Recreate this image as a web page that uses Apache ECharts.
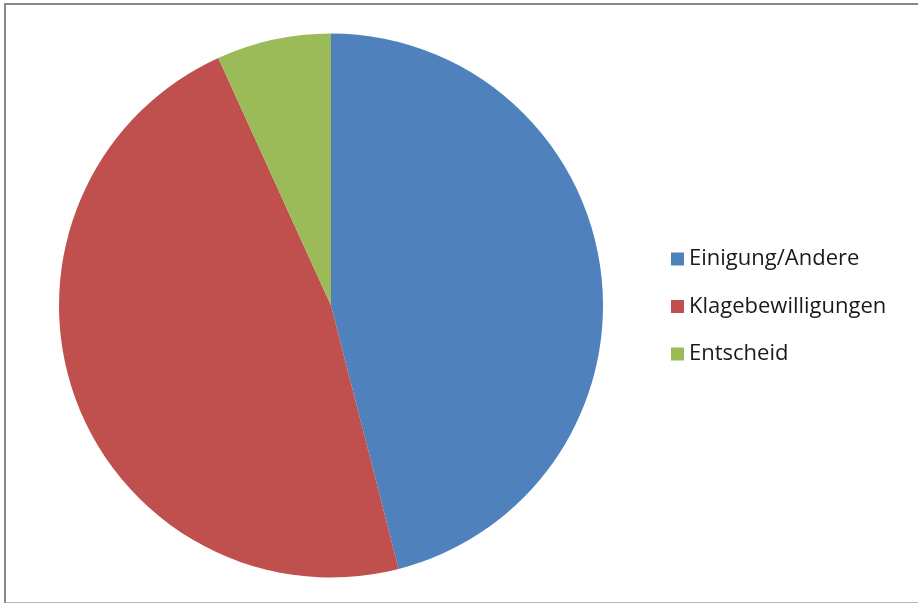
<!DOCTYPE html>
<html><head><meta charset="utf-8">
<script src="https://cdn.jsdelivr.net/npm/echarts@6/dist/echarts.min.js"></script>
<style>
html,body{margin:0;padding:0;background:#fff;}
#frame{position:absolute;left:4px;top:3px;width:914px;height:600px;border-top:2px solid #878787;border-left:2px solid #878787;border-bottom:1px solid #b5b5b5;box-sizing:border-box;}
#c{position:absolute;left:0;top:0;width:918px;height:605px;}
</style></head>
<body>
<div id="frame"></div>
<div id="c"></div>
<script>
const categories = ['Einigung/Andere', 'Klagebewilligungen', 'Entscheid'];
const values = [46.0, 47.2, 6.8];
const colors = ['#4F81BD', '#C0504D', '#9BBB59'];

const chart = echarts.init(document.getElementById('c'), null, {renderer: 'canvas'});
chart.setOption({
  animation: false,
  color: colors,
  legend: {
    orient: 'vertical',
    left: 671,
    top: 248,
    padding: 0,
    itemWidth: 13,
    itemHeight: 13,
    itemGap: 25.5,
    itemTextGap: 10,
    icon: 'rect',
    textStyle: {fontFamily: 'Open Sans', fontSize: 22, lineHeight: 22, color: '#1a1a1a'},
    data: categories
  },
  series: [{
    type: 'pie',
    center: [331, 305.5],
    radius: [0, 272],
    startAngle: 90,
    clockwise: true,
    label: {show: false},
    labelLine: {show: false},
    itemStyle: {borderWidth: 0},
    emphasis: {disabled: true},
    data: categories.map((n, i) => ({name: n, value: values[i]}))
  }]
});
</script>
</body></html>
